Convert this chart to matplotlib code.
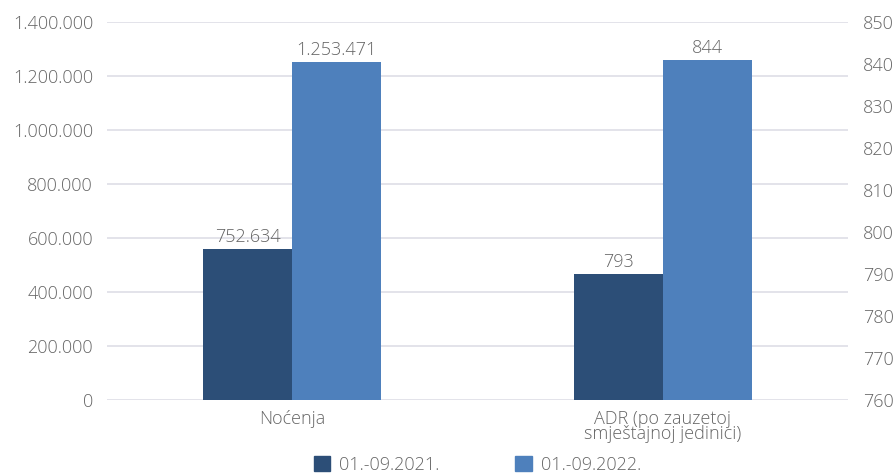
import matplotlib
matplotlib.use('Agg')

import numpy as np
import matplotlib.pyplot as plt
from matplotlib.patches import Patch

# categories and series
categories = ["Noćenja", "ADR (po zauzetoj\nsmještajnoj jedinici)"]
series_names = ["01.-09.2021.", "01.-09.2022."]

# bar heights as they appear in the chart (left axis for Noćenja, right axis for ADR)
nocenja_bars = [560000, 1253471]
adr_bars = [790, 841]

# value labels printed above the bars
nocenja_labels = [752634, 1253471]
adr_labels = [793, 844]

left_ticks = np.arange(0, 1400001, 200000)
right_ticks = np.arange(760, 851, 10)

dark = "#2c4e77"
light = "#4e80bc"
grey_txt = "#666666"
grid_col = "#dedee6"

plt.rcParams['font.family'] = ['Open Sans', 'DejaVu Sans']
plt.rcParams['font.weight'] = 'light'
fs = 13

def fmt(v):
    return f"{v:,.0f}".replace(",", ".")

fig = plt.figure(figsize=(8.94, 4.75), dpi=100)
ax = fig.add_axes([107/894, 75/475, 741/894, 378/475])
ax2 = ax.twinx()

w = 0.24
x = np.arange(len(categories))

# Noćenja on left axis
ax.bar(x[0] - w/2, nocenja_bars[0], w, color=dark, zorder=3)
ax.bar(x[0] + w/2, nocenja_bars[1], w, color=light, zorder=3)
# ADR on right axis
ax2.bar(x[1] - w/2, adr_bars[0] - 760, w, bottom=760, color=dark, zorder=3)
ax2.bar(x[1] + w/2, adr_bars[1] - 760, w, bottom=760, color=light, zorder=3)

ax.set_xlim(-0.5, 1.5)
ax.set_ylim(0, 1400000)
ax2.set_ylim(760, 850)
ax.set_yticks(left_ticks)
ax.set_yticklabels([fmt(t) for t in left_ticks])
ax2.set_yticks(right_ticks)
ax2.set_yticklabels([str(t) for t in right_ticks])

ax.grid(axis='y', color=grid_col, linewidth=1.2, zorder=0)
ax.set_axisbelow(True)

for a in (ax, ax2):
    for s in a.spines.values():
        s.set_visible(False)
    a.tick_params(length=0, labelsize=fs, labelcolor=grey_txt)
ax.tick_params(axis='y', pad=10)
ax2.tick_params(axis='y', pad=11)

ax.set_xticks(x)
ax.set_xticklabels(categories, linespacing=0.8, va='top')
ax.tick_params(axis='x', pad=7)

# value labels
for i in range(2):
    ax.annotate(fmt(nocenja_labels[i]), (x[0] + (i - 0.5) * w, nocenja_bars[i]),
                xytext=(0, 2), textcoords='offset points',
                ha='center', va='bottom', fontsize=fs, color=grey_txt, zorder=4)
    ax2.annotate(fmt(adr_labels[i]), (x[1] + (i - 0.5) * w, adr_bars[i]),
                 xytext=(0, 2), textcoords='offset points',
                 ha='center', va='bottom', fontsize=fs, color=grey_txt, zorder=4)

handles = [Patch(color=dark), Patch(color=light)]
leg = ax.legend(handles, series_names, loc='center', bbox_to_anchor=(0.5, -0.172),
                ncol=2, frameon=False, fontsize=fs, handlelength=0.9, handleheight=0.9,
                handletextpad=0.5, columnspacing=4.2, labelcolor=grey_txt)

fig.savefig("out.png", dpi=100)
